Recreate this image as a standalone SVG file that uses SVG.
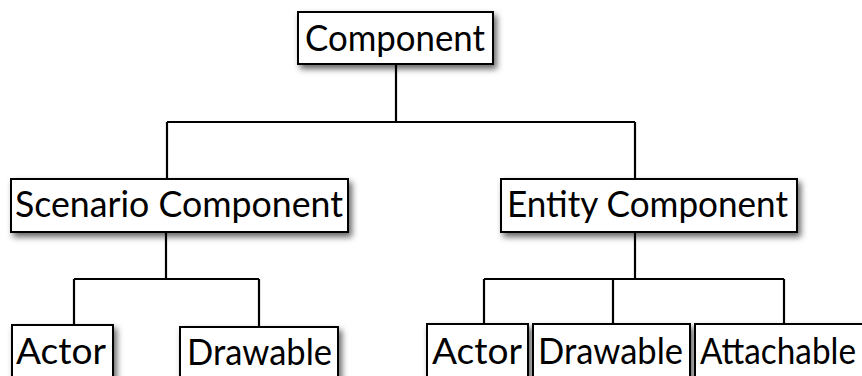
<svg xmlns="http://www.w3.org/2000/svg" width="862" height="376" viewBox="0 0 862 376">
<defs>
<filter id="sh" x="-10%" y="-20%" width="130%" height="160%">
<feDropShadow dx="3" dy="4" stdDeviation="3" flood-color="#000" flood-opacity="0.6"/>
</filter>
</defs>
<style>
.box{fill:#fff;stroke:#000;stroke-width:2;filter:url(#sh)}
.lbl{font-family:Lato,"Open Sans","Liberation Sans",sans-serif;font-size:36px;fill:#000}
.con{fill:none;stroke:#000;stroke-width:2.2}
</style>
<rect width="862" height="376" fill="#fff"/>
<g id="connectors" class="con">
<path d="M396 64V122M167 122H635M167 122V179M635 122V179"/>
<path d="M166 232V279M74 279H259M74 279V325M259 279V327"/>
<path d="M635 232V279M484 279H784M484 279V324M613 279V324M784 279V324"/>
</g>
<g id="component"><rect class="box" x="298" y="12" width="195" height="52"/><text class="lbl" x="305" y="51" textLength="180" lengthAdjust="spacingAndGlyphs">Component</text></g>
<g id="scenario"><rect class="box" x="11" y="179" width="337" height="53"/><text class="lbl" x="15" y="217" textLength="328" lengthAdjust="spacingAndGlyphs">Scenario Component</text></g>
<g id="entity"><rect class="box" x="501" y="179" width="296" height="53"/><text class="lbl" x="507" y="217" textLength="281" lengthAdjust="spacingAndGlyphs">Entity Component</text></g>
<g id="s-actor"><rect class="box" x="12" y="325" width="101" height="70"/><text class="lbl" x="16" y="364" textLength="90" lengthAdjust="spacingAndGlyphs">Actor</text></g>
<g id="s-drawable"><rect class="box" x="180" y="327" width="158" height="70"/><text class="lbl" x="187" y="365" textLength="145" lengthAdjust="spacingAndGlyphs">Drawable</text></g>
<g id="e-actor"><rect class="box" x="427" y="324" width="101" height="70"/><text class="lbl" x="432" y="364" textLength="90" lengthAdjust="spacingAndGlyphs">Actor</text></g>
<g id="e-drawable"><rect class="box" x="533" y="324" width="157" height="70"/><text class="lbl" x="538" y="364" textLength="145" lengthAdjust="spacingAndGlyphs">Drawable</text></g>
<g id="e-attachable"><rect class="box" x="695" y="324" width="180" height="70"/><text class="lbl" x="700" y="364" textLength="156" lengthAdjust="spacingAndGlyphs">Attachable</text></g>
</svg>
